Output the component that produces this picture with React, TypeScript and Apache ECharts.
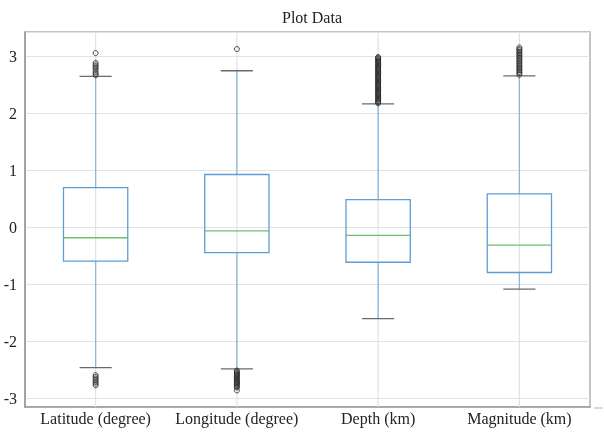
import React, { useEffect, useRef } from "react";
import * as echarts from "echarts";

const categories = ["Latitude (degree)", "Longitude (degree)", "Depth (km)", "Magnitude (km)"];
// [lower whisker, Q1, median, Q3, upper whisker]
const latitudeBox = [-2.46, -0.59, -0.18, 0.70, 2.65];
const longitudeBox = [-2.48, -0.44, -0.06, 0.93, 2.75];
const depthBox = [-1.6, -0.61, -0.14, 0.49, 2.17];
const magnitudeBox = [-1.08, -0.79, -0.31, 0.59, 2.66];

const latitudeOutliers = [3.06, 2.89, 2.86, 2.83, 2.8, 2.77, 2.73, 2.7, 2.67, -2.59, -2.62, -2.65, -2.68, -2.71, -2.74, -2.77];
const longitudeOutliers = [3.13, -2.51, -2.53, -2.55, -2.57, -2.59, -2.61, -2.63, -2.65, -2.67, -2.69, -2.71, -2.73, -2.75, -2.77, -2.79, -2.81, -2.86];
const depthOutliers = [
  2.18, 2.2, 2.22, 2.24, 2.26, 2.28, 2.3, 2.32, 2.34, 2.36, 2.38, 2.4, 2.42, 2.44, 2.46, 2.48, 2.5, 2.52, 2.54, 2.56,
  2.58, 2.6, 2.62, 2.64, 2.66, 2.68, 2.7, 2.72, 2.74, 2.76, 2.78, 2.8, 2.82, 2.84, 2.86, 2.88, 2.9, 2.92, 2.94, 2.96,
  2.98, 2.99,
];
const magnitudeOutliers = [2.68, 2.71, 2.73, 2.76, 2.78, 2.81, 2.83, 2.86, 2.88, 2.91, 2.93, 2.96, 2.98, 3.01, 3.03, 3.06, 3.08, 3.11, 3.13, 3.16];

const yMin = -3.15;
const yMax = 3.43;

const FONT = "'Liberation Serif', 'Times New Roman', serif";

export default function App() {
  const ref = useRef<HTMLDivElement>(null);
  useEffect(() => {
    if (!ref.current) return;
    const chart = echarts.init(ref.current, undefined, { renderer: "svg" });
    const boxes = [latitudeBox, longitudeBox, depthBox, magnitudeBox];
    const boxData = boxes.map((b, i) => [i, ...b]);
    const outlierSets = [latitudeOutliers, longitudeOutliers, depthOutliers, magnitudeOutliers];
    const outlierData: number[][] = [];
    outlierSets.forEach((set, i) => set.forEach((v) => outlierData.push([i, v])));

    chart.setOption({
      animation: false,
      title: {
        text: "Plot Data",
        left: 307,
        textAlign: "center",
        top: 4,
        textStyle: { fontFamily: FONT, fontSize: 16, fontWeight: "normal", color: "#222" },
      },
      grid: {
        left: 25,
        right: 14,
        top: 32,
        bottom: 26,
        show: true,
        borderColor: "#b0b0b0",
        borderWidth: 1.5,
        backgroundColor: "#fff",
      },
      xAxis: {
        type: "category",
        data: categories,
        boundaryGap: true,
        axisLine: { onZero: false, lineStyle: { color: "#999", width: 1.5 } },
        axisTick: { show: false },
        axisLabel: { interval: 0, fontFamily: FONT, fontSize: 16, color: "#222", margin: 3 },
        splitLine: { show: false },
      },
      yAxis: {
        type: "value",
        min: yMin,
        max: yMax,
        splitNumber: 7,
        axisLine: { show: true, lineStyle: { color: "#999", width: 1.5 } },
        axisTick: { show: false },
        axisLabel: {
          fontFamily: FONT,
          fontSize: 16,
          color: "#222",
          margin: 8,
          formatter: (v: number) => (Math.abs(v - Math.round(v)) < 1e-6 ? String(Math.round(v)) : ""),
        },
        splitLine: { show: true, lineStyle: { color: "#e2e2e2", width: 1.2 } },
      },
      graphic: [
        { type: "line", shape: { x1: 594, y1: 408, x2: 603, y2: 408 }, style: { stroke: "#bbb", lineWidth: 1 } },
      ],
      series: [
        {
          type: "custom",
          data: boxData,
          encode: { x: 0, y: [1, 2, 3, 4, 5] },
          renderItem: (params: any, api: any) => {
            const idx = api.value(0);
            const pMin = api.coord([idx, api.value(1)]);
            const pQ1 = api.coord([idx, api.value(2)]);
            const pMed = api.coord([idx, api.value(3)]);
            const pQ3 = api.coord([idx, api.value(4)]);
            const pMax = api.coord([idx, api.value(5)]);
            const bw = api.size([1, 0])[0] * 0.455;
            const cw = bw / 2;
            const cx = pMed[0];
            const cs = params.coordSys;
            const whisk = { stroke: "#86badf", lineWidth: 1.3 };
            const cap = { stroke: "#6a6a6a", lineWidth: 1.3 };
            return {
              type: "group",
              children: [
                { type: "line", shape: { x1: cx, y1: cs.y, x2: cx, y2: cs.y + cs.height }, style: { stroke: "#e2e2e2", lineWidth: 1.2 } },
                { type: "line", shape: { x1: cx, y1: pQ3[1], x2: cx, y2: pMax[1] }, style: whisk },
                { type: "line", shape: { x1: cx, y1: pQ1[1], x2: cx, y2: pMin[1] }, style: whisk },
                {
                  type: "rect",
                  shape: { x: cx - bw / 2, y: pQ3[1], width: bw, height: pQ1[1] - pQ3[1] },
                  style: { fill: "none", stroke: "#5d9dd3", lineWidth: 1.3 },
                },
                { type: "line", shape: { x1: cx - bw / 2, y1: pMed[1], x2: cx + bw / 2, y2: pMed[1] }, style: { stroke: "#6cc06c", lineWidth: 1.3 } },
                { type: "line", shape: { x1: cx - cw / 2, y1: pMax[1], x2: cx + cw / 2, y2: pMax[1] }, style: cap },
                { type: "line", shape: { x1: cx - cw / 2, y1: pMin[1], x2: cx + cw / 2, y2: pMin[1] }, style: cap },
              ],
            };
          },
        },
        {
          type: "scatter",
          data: outlierData,
          symbol: "circle",
          symbolSize: 5,
          itemStyle: { color: "rgba(255,255,255,0)", borderColor: "#222", borderWidth: 1 },
          emphasis: { disabled: true },
        },
      ],
    });
    return () => chart.dispose();
  }, []);
  return <div ref={ref} style={{ position: "fixed", left: 0, top: 0, width: 604, height: 433 }} />;
}
